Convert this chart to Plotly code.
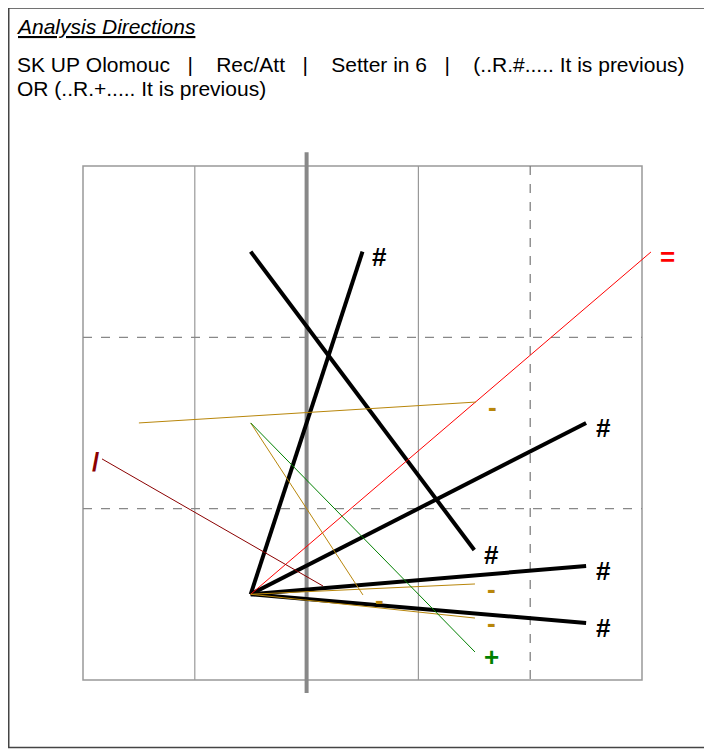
import plotly.graph_objects as go

# ---- data (court units: x = columns 0..5, y = rows 0..3, top to bottom) ----
start_x = [1.5, 1.5, 1.5, 1.5, 1.5, 1.5, 2.147, 0.5, 1.5, 1.5, 1.5, 1.5]
start_y = [0.5, 2.5, 2.5, 2.5, 2.5, 2.5, 2.452, 1.5, 1.5, 2.5, 2.5, 1.5]
end_x = [3.5, 2.5, 4.5, 4.5, 4.5, 5.08, 0.17, 3.515, 2.504, 3.506, 3.506, 3.506]
end_y = [2.242, 0.5, 1.5, 2.335, 2.668, 0.502, 1.71, 1.378, 2.504, 2.44, 2.639, 2.837]
evals = ["#", "#", "#", "#", "#", "=", "/", "-", "-", "-", "-", "+"]

title = "Analysis Directions"
subtitle1 = "SK UP Olomouc   |    Rec/Att   |    Setter in 6   |    (..R.#..... It is previous)"
subtitle2 = "OR (..R.+..... It is previous)"

# ---- styles ----
eval_color = {"#": "#000000", "=": "#FF0000", "/": "#8B0000", "-": "#B8860B", "+": "#008000"}
eval_width = {"#": 4, "=": 1, "/": 1, "-": 1, "+": 1}

FONT = "Liberation Sans, Arial, sans-serif"
W, H = 704, 743          # page adds an 8px body margin
PX_X = 111.8             # pixels per column
PX_Y = 171.3             # pixels per row
X0, Y0 = 75, 158         # court top-left in figure pixels

fig = go.Figure()

order = [i for i in range(len(evals)) if evals[i] == "#"] + [i for i in range(len(evals)) if evals[i] != "#"]
for i in order:
    e = evals[i]
    fig.add_trace(go.Scatter(
        x=[start_x[i], end_x[i]], y=[start_y[i], end_y[i]],
        mode="lines",
        line=dict(color=eval_color[e], width=eval_width[e]),
        hoverinfo="skip", showlegend=False,
    ))
    if end_x[i] >= start_x[i]:
        xs, ys = 17, -5
    else:
        xs, ys = -7, -3
    fig.add_annotation(
        x=end_x[i], y=end_y[i], xref="x", yref="y",
        text="<b>%s</b>" % e, showarrow=False,
        xshift=xs, yshift=ys,
        font=dict(family=FONT, size=26, color=eval_color[e]),
    )

# ---- court ----
grid = "#999999"
shapes = []
shapes.append(dict(type="rect", xref="x", yref="y", x0=0, x1=5, y0=0, y1=3,
                   line=dict(color=grid, width=1.5), layer="below"))
for xv in [1, 3]:
    shapes.append(dict(type="line", xref="x", yref="y", x0=xv, x1=xv, y0=0, y1=3,
                       line=dict(color=grid, width=1.2), layer="below"))
shapes.append(dict(type="line", xref="x", yref="y", x0=4, x1=4, y0=0, y1=3,
                   line=dict(color="#777777", width=1.2, dash="dash"), layer="below"))
for yv in [1, 2]:
    shapes.append(dict(type="line", xref="x", yref="y", x0=0, x1=5, y0=yv, y1=yv,
                       line=dict(color="#888888", width=1.2, dash="dash"), layer="below"))
# net
shapes.append(dict(type="line", xref="x", yref="y", x0=2, x1=2, y0=-0.08, y1=3.076,
                   line=dict(color="#888888", width=4), layer="below"))
# outer frame
shapes.append(dict(type="rect", xref="paper", yref="paper",
                   x0=0.75 / W, x1=1.05, y0=1 - 739.5 / H, y1=1 - 0.0 / H,
                   line=dict(color="#444444", width=1.5)))

fig.update_layout(shapes=shapes)

# ---- texts ----
fig.add_annotation(x=6 / W, y=1 - 19 / H, xref="paper", yref="paper", xanchor="left", yanchor="middle",
                   text="<i><u>%s</u></i>" % title, showarrow=False,
                   font=dict(family=FONT, size=21, color="#000000"))
fig.add_annotation(x=7 / W, y=1 - 57 / H, xref="paper", yref="paper", xanchor="left", yanchor="middle",
                   text=subtitle1.replace(" ", "\u00a0"), showarrow=False,
                   font=dict(family=FONT, size=21, color="#000000"))
fig.add_annotation(x=7 / W, y=1 - 80 / H, xref="paper", yref="paper", xanchor="left", yanchor="middle",
                   text=subtitle2.replace(" ", "\u00a0"), showarrow=False,
                   font=dict(family=FONT, size=21, color="#000000"))

fig.update_layout(
    width=W, height=H,
    margin=dict(l=0, r=0, t=0, b=0),
    paper_bgcolor="white", plot_bgcolor="white",
    xaxis=dict(range=[-X0 / PX_X, (W - X0) / PX_X], visible=False, fixedrange=True),
    yaxis=dict(range=[(H - Y0) / PX_Y, -Y0 / PX_Y], visible=False, fixedrange=True),
    showlegend=False,
)

fig.write_html("out.html")
